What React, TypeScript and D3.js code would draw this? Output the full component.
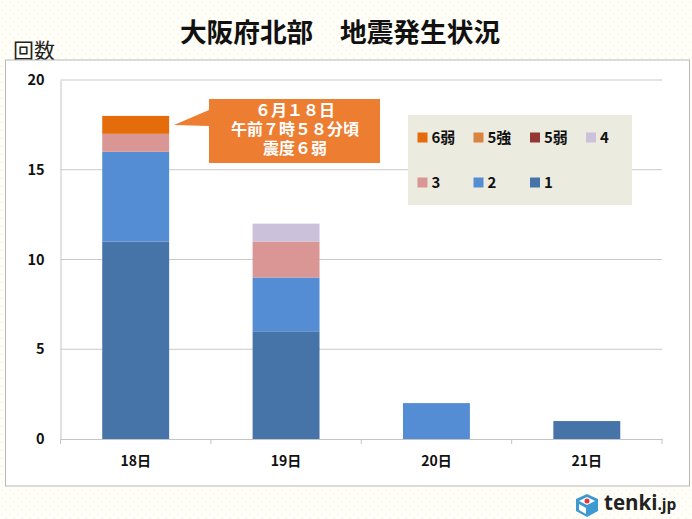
import * as d3 from "d3";
import React, { useEffect, useRef } from "react";

const days = ["18日", "19日", "20日", "21日"];
const levels = ["1", "2", "3", "4", "5弱", "5強", "6弱"];
const level1 = [11, 6, 0, 1];
const level2 = [5, 3, 2, 0];
const level3 = [1, 2, 0, 0];
const level4 = [0, 1, 0, 0];
const level5w = [0, 0, 0, 0];
const level5s = [0, 0, 0, 0];
const level6w = [1, 0, 0, 0];
const colors = ["#4674a9", "#548dd4", "#d99694", "#ccc1da", "#953735", "#d9853f", "#e46c0a"];
const yTicks = [0, 5, 10, 15, 20];
const legendOrder = ["6弱", "5強", "5弱", "4", "3", "2", "1"];
const calloutLines = ["６月１８日", "午前７時５８分頃", "震度６弱"];

const FONT = "'Noto Sans CJK JP', sans-serif";
const W = 692;
const H = 519;

const App: React.FC = () => {
  const gx = useRef<SVGGElement>(null);
  const gy = useRef<SVGGElement>(null);

  const x = d3.scaleBand(days, [60.5, 662]).paddingInner(0.555).paddingOuter(0.2775);
  const y = d3.scaleLinear([0, 20], [439, 80]);

  const rows = days.map((d, i) => ({
    day: d,
    "1": level1[i],
    "2": level2[i],
    "3": level3[i],
    "4": level4[i],
    "5弱": level5w[i],
    "5強": level5s[i],
    "6弱": level6w[i],
  }));
  const stacked = d3.stack<any>().keys(levels)(rows);
  const color = d3.scaleOrdinal(levels, colors);

  useEffect(() => {
    if (gx.current) {
      const g = d3.select(gx.current);
      g.selectAll("*").remove();
      g.call(d3.axisBottom(x).tickSize(0).tickPadding(17));
      g.select(".domain").attr("stroke", "#c4c4c4").attr("stroke-width", 1.2);
      g.selectAll("text")
        .attr("font-family", FONT)
        .attr("font-size", 14)
        .attr("font-weight", 700)
        .attr("fill", "#111");
      // tick marks sit on the band edges, not the centres
      const edges = days.map((d) => (x(d) as number) - (x.step() - x.bandwidth()) / 2);
      edges.push(662);
      g.selectAll("line.edge")
        .data(edges)
        .join("line")
        .attr("class", "edge")
        .attr("x1", (d) => d)
        .attr("x2", (d) => d)
        .attr("y1", 0)
        .attr("y2", 5)
        .attr("stroke", "#c4c4c4");
    }
    if (gy.current) {
      const g = d3.select(gy.current);
      g.selectAll("*").remove();
      g.call(d3.axisLeft(y).tickValues(yTicks).tickSize(0).tickPadding(16));
      g.select(".domain").attr("stroke", "#c4c4c4").attr("stroke-width", 1);
      g.selectAll("text")
        .attr("font-family", FONT)
        .attr("font-size", 14.5)
        .attr("font-weight", 700)
        .attr("fill", "#111");
    }
  }, []);

  const legendX = [417.5, 473.5, 530, 586];
  const legendY = [137.5, 182.5];

  return (
    <svg
      width={W}
      height={H}
      style={{ position: "absolute", left: 0, top: 0, display: "block" }}
      fontFamily={FONT}
    >
      <defs>
        <pattern id="dots" width="8" height="8" patternUnits="userSpaceOnUse">
          <rect width="8" height="8" fill="#fffef9" />
          <circle cx="2" cy="2" r="1" fill="#faf7e2" />
          <circle cx="6" cy="6" r="1" fill="#faf7e2" />
        </pattern>
      </defs>
      <rect width={W} height={H} fill="url(#dots)" />

      <text x={340} y={42} textAnchor="middle" fontSize={26.7} fontWeight={700} fill="#111">
        大阪府北部　地震発生状況
      </text>
      <text x={13} y={58} fontSize={21} fill="#222">回数</text>

      <rect x={5.5} y={60} width={684} height={426} fill="#fff" stroke="#b8b8b8" strokeWidth={1} />

      {yTicks.filter((t) => t > 0).map((t) => (
        <line key={t} x1={60.5} x2={662} y1={y(t)} y2={y(t)} stroke="#c9c9c9" strokeWidth={1.2} />
      ))}
      <g ref={gy} transform="translate(60.5,0)" />
      <g ref={gx} transform="translate(0,439)" />

      {stacked.map((s) => (
        <g key={s.key} fill={color(s.key)}>
          {s.map((d, i) =>
            d[1] > d[0] ? (
              <rect
                key={days[i]}
                x={x(days[i])}
                y={y(d[1])}
                width={x.bandwidth()}
                height={y(d[0]) - y(d[1])}
              />
            ) : null
          )}
        </g>
      ))}

      <path d="M209,99H380V163H209V126L174,125L209,110Z" fill="#ed7d31" />
      <g textAnchor="middle" fill="#fff" fontWeight={700} fontSize={16}>
        {calloutLines.map((l, i) => (
          <text key={l} x={295} y={116 + i * 18.8}>{l}</text>
        ))}
      </g>

      <rect x={408} y={115} width={224} height={90} fill="#ecebe0" />
      {legendOrder.map((k, i) => (
        <g key={k} transform={`translate(${legendX[i % 4]},${legendY[Math.floor(i / 4)]})`}>
          <rect x={0} y={-5} width={10} height={10} fill={color(k)} />
          <text x={14} y={5.5} fontSize={15} fontWeight={700} fill="#111">{k}</text>
        </g>
      ))}

      <g transform="translate(587,505)">
        <path d="M0,-11L11,-6V6L0,12L-11,6V-6Z" fill="#3d9ad1" />
        <path d="M0,-8L8,-4L0,0L-8,-4Z" fill="#fff" />
        <circle cx={0} cy={-4} r={2.5} fill="#e0383e" />
        <path d="M-8,-1L-1,3V9L-8,5Z" fill="#fff" />
      </g>
      <text x={604} y={510} fontSize={20.5} fontWeight={700} fill="#222" fontFamily="'Open Sans', sans-serif">
        tenki<tspan fontSize={15.5}>.jp</tspan>
      </text>
    </svg>
  );
};

export default App;
